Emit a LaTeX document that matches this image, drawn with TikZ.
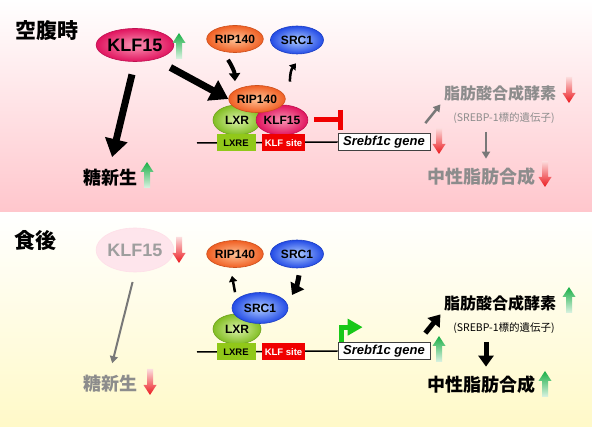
\documentclass[tikz,border=0pt]{standalone}
\usepackage{fontspec}
\setmainfont{Liberation Sans}
\newfontfamily\jpfont{Noto Sans CJK JP}
\usetikzlibrary{shapes.geometric,arrows.meta}
\definecolor{pinkbg}{RGB}{255,198,204}
\definecolor{yellowbg}{RGB}{255,249,200}
\definecolor{klfin}{RGB}{250,150,180}
\definecolor{klfout}{RGB}{225,20,95}
\definecolor{ripin}{RGB}{255,195,150}
\definecolor{ripout}{RGB}{240,95,35}
\definecolor{srcin}{RGB}{175,205,255}
\definecolor{srcout}{RGB}{35,75,230}
\definecolor{lxrin}{RGB}{220,242,170}
\definecolor{lxrout}{RGB}{130,190,35}
\definecolor{lxregreen}{RGB}{145,200,25}
\definecolor{sitered}{RGB}{240,0,0}
\definecolor{upgreen}{RGB}{25,175,70}
\definecolor{downred}{RGB}{235,25,30}
\definecolor{promgreen}{RGB}{25,200,25}
\definecolor{arrgray}{RGB}{120,120,120}
\definecolor{fadetext}{RGB}{140,140,140}

% gradient block arrows
\newcommand{\greenup}[1]{%
  \begin{scope}[shift={#1}]
    \shade[top color=upgreen, bottom color=upgreen!15] (-3,13) -- (-3,-3) -- (-6.5,-3) -- (0,-13) -- (6.5,-3) -- (3,-3) -- (3,13) -- cycle;
  \end{scope}}
\newcommand{\reddown}[1]{%
  \begin{scope}[shift={#1}]
    \shade[top color=downred!15, bottom color=downred] (-3,-13) -- (-3,3) -- (-6.5,3) -- (0,13) -- (6.5,3) -- (3,3) -- (3,-13) -- cycle;
  \end{scope}}

\tikzset{
  prot/.style={ellipse, inner sep=0pt, minimum width=56pt, minimum height=27pt, line width=0.6pt, font=\bfseries\fontsize{12pt}{12pt}\selectfont},
  rip/.style={prot, inner color=ripin, outer color=ripout, draw=ripout!85!black},
  src/.style={prot, inner color=srcin, outer color=srcout, draw=srcout!85!black},
  lxr/.style={prot, minimum width=48pt, minimum height=30pt, inner color=lxrin, outer color=lxrout, draw=lxrout!85!black},
  klf/.style={prot, minimum width=48pt, minimum height=30pt, inner color=klfin, outer color=klfout, draw=klfout!85!black},
  dnabox/.style={inner sep=0pt, minimum height=17pt, font=\bfseries\fontsize{9.5pt}{10pt}\selectfont},
  lxrebox/.style={dnabox, fill=lxregreen, minimum width=39pt},
  sitebox/.style={dnabox, fill=sitered, text=white, minimum width=43pt},
  genebox/.style={dnabox, draw=black!75, fill=white, minimum width=92pt, line width=0.7pt, font=\bfseries\itshape\fontsize{13pt}{13pt}\selectfont},
  title/.style={font=\jpfont\bfseries\fontsize{21pt}{21pt}\selectfont},
  jpbig/.style={font=\jpfont\bfseries\fontsize{18pt}{18pt}\selectfont},
  jpmid/.style={font=\jpfont\bfseries\fontsize{16pt}{16pt}\selectfont},
  jpsmall/.style={font=\jpfont\fontsize{10.5pt}{10.5pt}\selectfont},
  bigarr/.style={line width=7pt, -{Triangle[length=18pt,width=22pt]}},
  midarr/.style={line width=5pt, -{Triangle[length=11pt,width=15pt]}},
  curvarr/.style={line width=4pt, -{Triangle[length=8pt,width=11pt]}},
  thinarr/.style={line width=2.5pt, -{Triangle[length=6pt,width=8pt]}},
  grayarr/.style={draw=arrgray, line width=2.5pt, -{Triangle[length=7pt,width=8pt]}},
  promo/.style={draw=promgreen, line width=5pt, -{Triangle[length=15pt,width=16pt]}},
  inhib/.style={draw=sitered, line width=5pt, -{Bar[width=20pt]}},
  dna/.style={line width=1.5pt}
}

\begin{document}
\begin{tikzpicture}[x=1pt, y=-1pt]
  \useasboundingbox (0,0) rectangle (592,427);
  % Backgrounds
  \shade[top color=white, bottom color=pinkbg] (0,0) rectangle (592,213);
  \shade[top color=white, bottom color=yellowbg] (0,213) rectangle (592,427);

  % ---- fasting ----
  \node[title] (fast) at (47,31) {空腹時};
  \node[klf, minimum width=68pt, minimum height=33pt, font=\bfseries\fontsize{18pt}{18pt}\selectfont] (klfA) at (135,45) {KLF15};
  \greenup{(179,46)}
  \node[rip] (ripA) at (235,39) {RIP140};
  \node[src, minimum width=53pt, minimum height=28pt] (srcA) at (297,40) {SRC1};
  \node[lxr] (lxrA) at (237,120) {LXR};
  \node[klf] (klfAb) at (282,120) {KLF15};
  \node[rip] (ripAb) at (257,99) {RIP140};
  % DNA
  \coordinate (dnaA) at (197,143);
  \node[genebox] (geneA) at (384,142) {Srebf1c gene};
  \draw[dna] (dnaA) -- (geneA.west);
  \node[lxrebox] (lxreA) at (236,143) {LXRE};
  \node[sitebox] (siteA) at (283.5,143) {KLF site};
  \reddown{(439,141)}
  \draw[inhib] ([xshift=6pt]klfAb.east) -- ([xshift=35pt]klfAb.east);
  % targets
  \node[jpmid, text=fadetext] (fasA) at (500,93) {脂肪酸合成酵素};
  \reddown{(569,90)}
  \node[jpsmall, text=fadetext] (tgtA) at (504,118) {(SREBP-1標的遺伝子)};
  \node[jpbig, text=fadetext] (tgA) at (481,177) {中性脂肪合成};
  \reddown{(545,174)}
  \node[jpbig] (gluA) at (110,178) {糖新生};
  \greenup{(147,175)}
  % arrows
  \draw[bigarr, shorten <=17pt] (klfA.-35) -- (ripAb.west);
  \draw[bigarr, shorten <=13pt, shorten >=9pt] (klfA.south) -- (gluA.north);
  \draw[curvarr] ([shift={(-7,7)}]ripA.south) to[bend left=15] ([shift={(-22,-4)}]ripAb.north);
  \draw[thinarr] ([shift={(8,-23)}]klfAb.north) to[bend left=20] ([shift={(-1,9)}]srcA.south);
  \draw[grayarr] ([shift={(-5,-10)}]geneA.north east) -- (fasA.south west);
  \draw[grayarr, shorten <=5pt, shorten >=6pt] ([xshift=-18pt]tgtA.south) -- ([xshift=5pt]tgA.north);

  % ---- fed ----
  \node[title] (fed) at (36,241) {食後};
  \node[prot, minimum width=68pt, minimum height=44pt, fill=klfin!25, draw=klfin!30, text=black!38, font=\bfseries\fontsize{18pt}{18pt}\selectfont] (klfB) at (135,250) {KLF15};
  \reddown{(179,250)}
  \node[rip] (ripB) at (235,254) {RIP140};
  \node[src, minimum width=53pt, minimum height=28pt] (srcB) at (297,254) {SRC1};
  \node[lxr] (lxrB) at (237,329) {LXR};
  \node[src, minimum height=31pt] (srcBb) at (260,308) {SRC1};
  % DNA
  \coordinate (dnaB) at (197,352);
  \node[genebox] (geneB) at (384,351) {Srebf1c gene};
  \draw[dna] (dnaB) -- (geneB.west);
  \node[lxrebox] (lxreB) at (236,352) {LXRE};
  \node[sitebox] (siteB) at (283.5,352) {KLF site};
  \draw[promo] ([xshift=4pt]geneB.north west) -- ++(0,-15) -- ++(21,0);
  \greenup{(439,349)}
  % targets
  \node[jpmid] (fasB) at (500,303) {脂肪酸合成酵素};
  \greenup{(569,300)}
  \node[jpsmall] (tgtB) at (504,328) {(SREBP-1標的遺伝子)};
  \node[jpbig] (tgB) at (481,385) {中性脂肪合成};
  \greenup{(545,384)}
  \node[jpbig, text=fadetext] (gluB) at (110,384) {糖新生};
  \reddown{(150,382)}
  % arrows
  \draw[grayarr, line width=2pt, shorten <=10pt, shorten >=9pt] (klfB.south) -- (gluB.north);
  \draw[thinarr] ([xshift=-25pt]srcBb.north) -- ([shift={(-3,8)}]ripB.south);
  \draw[midarr] ([shift={(2,7)}]srcB.south) to[bend left=10] ([shift={(32,-13)}]srcBb.center);
  \draw[midarr] ([shift={(-5,-9)}]geneB.north east) -- (fasB.south west);
  \draw[midarr, shorten <=5pt, shorten >=6pt] ([xshift=-18pt]tgtB.south) -- ([xshift=5pt]tgB.north);
\end{tikzpicture}
\end{document}
